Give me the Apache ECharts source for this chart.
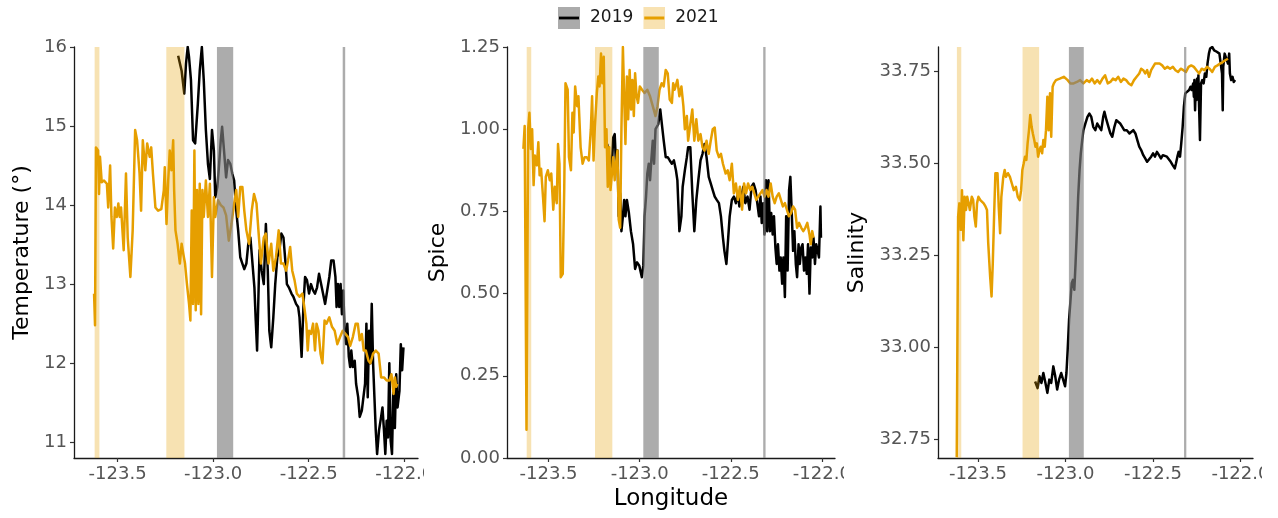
<!DOCTYPE html>
<html>
<head>
<meta charset="utf-8">
<script src="https://cdn.jsdelivr.net/npm/echarts@6/dist/echarts.min.js"></script>
<style>
  html, body { margin: 0; padding: 0; background: #fff; }
  #wrap { position: relative; width: 1278px; height: 518px; overflow: hidden; background: #fff; }
  .panel { position: absolute; top: 0; height: 518px; overflow: hidden; }
</style>
</head>
<body>
<div id="wrap">
  <div id="p1" class="panel" style="left:0;width:424px"></div>
  <div id="p2" class="panel" style="left:424px;width:420px"></div>
  <div id="p3" class="panel" style="left:844px;width:418px"></div>
</div>
<script>
// ---- axis ranges and tick labels ----
const lonMin = -123.728, lonMax = -121.928;
const lonTicks = [-123.5, -123.0, -122.5, -122.0];
const tempTicks = [11, 12, 13, 14, 15, 16];
const spiceTicks = [0, 0.25, 0.5, 0.75, 1.0, 1.25];
const salTicks = [32.75, 33.0, 33.25, 33.5, 33.75];

// ---- highlighted longitude bands (lon from, lon to) ----
const bands2019 = [[-122.980, -122.895], [-122.322, -122.309]];
const bands2021 = [[-123.620, -123.595], [-123.245, -123.150]];

// ---- temperature along the transect [longitude, value] ----
const temp2019 = [[-123.183,15.89],[-123.165,15.70],[-123.151,15.41],[-123.142,15.79],[-123.133,16.0],[-123.126,15.87],[-123.116,15.58],[-123.105,14.82],[-123.094,14.78],[-123.080,15.28],[-123.070,15.70],[-123.059,16.0],[-123.049,15.58],[-123.038,14.95],[-123.027,14.52],[-123.017,14.33],[-123.006,14.95],[-122.996,14.69],[-122.989,14.10],[-122.978,14.23],[-122.971,14.44],[-122.960,14.82],[-122.953,14.99],[-122.943,14.69],[-122.932,14.35],[-122.922,14.57],[-122.910,14.52],[-122.900,14.40],[-122.890,14.31],[-122.879,13.93],[-122.869,13.68],[-122.858,13.34],[-122.847,13.26],[-122.837,13.19],[-122.826,13.26],[-122.816,13.51],[-122.805,13.59],[-122.795,13.59],[-122.784,12.96],[-122.777,12.54],[-122.770,12.16],[-122.763,12.84],[-122.757,13.43],[-122.746,13.17],[-122.735,13.00],[-122.724,13.76],[-122.714,13.17],[-122.706,12.41],[-122.696,12.20],[-122.685,12.58],[-122.675,13.00],[-122.664,13.34],[-122.653,13.43],[-122.643,13.64],[-122.632,13.59],[-122.621,13.26],[-122.614,13.00],[-122.604,12.96],[-122.590,12.88],[-122.580,12.84],[-122.566,12.75],[-122.555,12.71],[-122.548,12.58],[-122.537,12.08],[-122.527,12.75],[-122.519,13.09],[-122.509,13.05],[-122.498,12.88],[-122.488,13.00],[-122.477,12.92],[-122.467,12.88],[-122.456,12.96],[-122.446,13.13],[-122.435,13.00],[-122.425,12.88],[-122.414,12.75],[-122.403,12.92],[-122.392,13.09],[-122.382,13.30],[-122.370,13.30],[-122.360,13.09],[-122.354,12.71],[-122.347,13.00],[-122.340,12.71],[-122.333,13.00],[-122.326,12.62],[-122.319,12.92],[-122.312,12.41],[-122.304,12.24],[-122.298,12.50],[-122.290,12.08],[-122.283,11.95],[-122.277,12.16],[-122.269,11.95],[-122.259,12.03],[-122.252,11.74],[-122.241,11.57],[-122.233,11.32],[-122.222,11.40],[-122.212,11.40],[-122.205,11.74],[-122.198,12.50],[-122.191,11.57],[-122.184,12.41],[-122.177,12.00],[-122.170,12.75],[-122.163,12.00],[-122.156,11.57],[-122.149,11.15],[-122.142,10.85],[-122.132,11.15],[-122.121,11.32],[-122.114,11.44],[-122.106,11.15],[-122.099,10.85],[-122.092,11.27],[-122.085,11.06],[-122.078,12.00],[-122.071,11.02],[-122.064,10.85],[-122.057,11.65],[-122.049,11.18],[-122.042,11.86],[-122.035,11.44],[-122.025,11.65],[-122.018,12.24],[-122.011,11.91],[-122.004,12.20]];
const temp2021 = [[-123.623,12.88],[-123.618,12.48],[-123.613,14.73],[-123.602,14.69],[-123.597,14.14],[-123.592,14.61],[-123.583,14.29],[-123.571,14.31],[-123.556,14.27],[-123.549,13.97],[-123.539,14.50],[-123.532,13.85],[-123.523,13.45],[-123.514,13.97],[-123.504,13.85],[-123.496,14.02],[-123.489,13.85],[-123.482,13.97],[-123.468,13.43],[-123.456,14.40],[-123.447,13.59],[-123.433,13.09],[-123.421,13.68],[-123.408,14.95],[-123.398,14.82],[-123.385,14.40],[-123.377,13.93],[-123.368,14.82],[-123.355,14.44],[-123.345,14.78],[-123.332,14.61],[-123.324,14.73],[-123.315,14.40],[-123.302,13.97],[-123.288,13.93],[-123.271,13.95],[-123.258,14.19],[-123.253,14.48],[-123.244,13.76],[-123.235,14.31],[-123.227,14.69],[-123.218,14.44],[-123.209,14.82],[-123.204,14.19],[-123.197,13.68],[-123.186,13.51],[-123.174,13.26],[-123.165,13.51],[-123.156,13.38],[-123.147,13.26],[-123.137,13.00],[-123.126,12.75],[-123.119,12.54],[-123.112,13.93],[-123.105,12.75],[-123.098,14.69],[-123.091,12.67],[-123.084,14.19],[-123.077,12.75],[-123.070,14.27],[-123.063,12.62],[-123.056,14.19],[-123.049,13.85],[-123.038,14.31],[-123.027,13.85],[-123.017,14.27],[-123.006,13.09],[-122.996,14.10],[-122.989,13.85],[-122.974,14.06],[-122.960,14.00],[-122.946,13.97],[-122.932,13.87],[-122.918,13.55],[-122.904,13.76],[-122.890,14.02],[-122.879,14.19],[-122.869,13.85],[-122.858,14.23],[-122.847,14.23],[-122.837,13.93],[-122.826,13.68],[-122.812,13.51],[-122.798,13.93],[-122.786,14.14],[-122.773,14.02],[-122.763,13.68],[-122.750,13.26],[-122.735,13.59],[-122.724,13.64],[-122.710,13.26],[-122.696,13.51],[-122.685,13.17],[-122.671,13.34],[-122.657,13.68],[-122.645,13.26],[-122.632,13.26],[-122.618,13.17],[-122.608,13.30],[-122.597,13.47],[-122.586,13.17],[-122.574,13.05],[-122.562,12.88],[-122.548,12.84],[-122.533,12.88],[-122.523,12.71],[-122.512,12.50],[-122.505,12.16],[-122.498,12.41],[-122.488,12.37],[-122.477,12.50],[-122.467,12.16],[-122.459,12.50],[-122.449,12.41],[-122.438,12.12],[-122.428,12.00],[-122.417,12.54],[-122.407,12.50],[-122.392,12.58],[-122.378,12.46],[-122.364,12.41],[-122.350,12.24],[-122.336,12.33],[-122.322,12.41],[-122.308,12.37],[-122.294,12.33],[-122.283,12.22],[-122.269,12.33],[-122.254,12.50],[-122.243,12.50],[-122.233,12.29],[-122.222,12.37],[-122.212,12.16],[-122.201,12.16],[-122.187,12.03],[-122.177,12.00],[-122.163,12.12],[-122.149,12.16],[-122.134,12.12],[-122.121,11.82],[-122.106,11.82],[-122.092,11.78],[-122.078,11.78],[-122.067,11.86],[-122.056,11.61],[-122.049,11.82],[-122.042,11.70],[-122.036,11.74]];

// ---- spice along the transect ----
const spice2019 = [[-123.178,0.955],[-123.167,0.915],[-123.160,0.855],[-123.152,0.895],[-123.145,0.975],[-123.137,0.985],[-123.130,0.895],[-123.122,0.935],[-123.115,0.735],[-123.107,0.805],[-123.100,0.69],[-123.092,0.735],[-123.085,0.785],[-123.078,0.735],[-123.070,0.785],[-123.059,0.745],[-123.048,0.69],[-123.036,0.65],[-123.025,0.575],[-123.014,0.595],[-123.002,0.585],[-122.995,0.585],[-122.988,0.55],[-122.980,0.585],[-122.973,0.735],[-122.965,0.795],[-122.958,0.865],[-122.950,0.895],[-122.943,0.845],[-122.936,0.905],[-122.928,0.965],[-122.921,0.895],[-122.913,1.00],[-122.906,1.005],[-122.898,1.015],[-122.887,1.06],[-122.876,1.005],[-122.868,0.965],[-122.857,0.915],[-122.846,0.915],[-122.835,0.905],[-122.823,0.895],[-122.812,0.905],[-122.801,0.875],[-122.793,0.845],[-122.782,0.69],[-122.771,0.735],[-122.764,0.825],[-122.752,0.875],[-122.741,0.915],[-122.734,0.945],[-122.722,0.945],[-122.711,0.805],[-122.700,0.69],[-122.689,0.785],[-122.678,0.845],[-122.666,0.905],[-122.655,0.925],[-122.644,0.955],[-122.633,0.915],[-122.621,0.855],[-122.610,0.835],[-122.599,0.815],[-122.588,0.795],[-122.577,0.785],[-122.565,0.775],[-122.554,0.735],[-122.543,0.67],[-122.535,0.63],[-122.524,0.59],[-122.514,0.67],[-122.506,0.735],[-122.494,0.785],[-122.483,0.795],[-122.472,0.775],[-122.461,0.805],[-122.453,0.765],[-122.442,0.795],[-122.431,0.825],[-122.420,0.775],[-122.408,0.795],[-122.397,0.755],[-122.386,0.825],[-122.375,0.835],[-122.364,0.815],[-122.352,0.765],[-122.345,0.735],[-122.337,0.795],[-122.330,0.715],[-122.322,0.775],[-122.315,0.68],[-122.307,0.845],[-122.300,0.69],[-122.293,0.845],[-122.285,0.69],[-122.278,0.745],[-122.270,0.68],[-122.263,0.735],[-122.255,0.64],[-122.248,0.59],[-122.241,0.65],[-122.233,0.57],[-122.226,0.61],[-122.218,0.53],[-122.211,0.61],[-122.203,0.49],[-122.196,0.735],[-122.188,0.57],[-122.180,0.815],[-122.173,0.855],[-122.166,0.755],[-122.158,0.63],[-122.151,0.69],[-122.143,0.59],[-122.136,0.55],[-122.128,0.65],[-122.121,0.59],[-122.113,0.64],[-122.106,0.65],[-122.098,0.57],[-122.091,0.61],[-122.083,0.56],[-122.076,0.65],[-122.068,0.50],[-122.061,0.64],[-122.053,0.61],[-122.046,0.67],[-122.038,0.59],[-122.031,0.65],[-122.023,0.63],[-122.016,0.61],[-122.008,0.765],[-122.005,0.67]];
const spice2021 = [[-123.638,0.94],[-123.631,1.01],[-123.621,0.086],[-123.612,1.00],[-123.605,1.05],[-123.597,0.94],[-123.590,1.00],[-123.582,0.83],[-123.575,0.92],[-123.564,0.89],[-123.556,0.96],[-123.549,0.86],[-123.541,0.88],[-123.530,0.79],[-123.522,0.72],[-123.515,0.855],[-123.504,0.875],[-123.493,0.845],[-123.485,0.865],[-123.474,0.755],[-123.466,0.825],[-123.455,0.775],[-123.448,0.955],[-123.440,0.895],[-123.433,0.55],[-123.422,0.56],[-123.414,0.815],[-123.407,1.14],[-123.395,1.12],[-123.388,0.915],[-123.377,0.875],[-123.369,1.05],[-123.362,0.99],[-123.354,1.13],[-123.343,1.07],[-123.336,1.10],[-123.324,0.945],[-123.313,0.895],[-123.302,0.915],[-123.291,0.915],[-123.279,0.905],[-123.268,1.00],[-123.261,1.10],[-123.253,0.905],[-123.246,1.005],[-123.235,1.11],[-123.227,1.16],[-123.220,1.13],[-123.212,1.23],[-123.205,1.14],[-123.197,1.22],[-123.190,0.945],[-123.182,1.00],[-123.175,0.825],[-123.167,0.945],[-123.160,0.815],[-123.152,0.865],[-123.145,0.915],[-123.137,0.845],[-123.130,0.895],[-123.122,0.935],[-123.115,0.725],[-123.107,0.70],[-123.100,1.00],[-123.092,1.25],[-123.085,1.10],[-123.078,0.955],[-123.070,1.16],[-123.063,1.03],[-123.055,1.18],[-123.047,1.06],[-123.040,1.15],[-123.032,1.04],[-123.025,1.17],[-123.017,1.10],[-123.009,1.08],[-122.999,1.13],[-122.987,1.12],[-122.973,1.11],[-122.958,1.12],[-122.943,1.10],[-122.928,1.07],[-122.913,1.04],[-122.902,1.07],[-122.891,1.12],[-122.879,1.14],[-122.868,1.13],[-122.857,1.18],[-122.846,1.17],[-122.835,1.09],[-122.823,1.08],[-122.816,1.14],[-122.808,1.12],[-122.793,1.15],[-122.782,1.10],[-122.771,1.13],[-122.760,1.07],[-122.752,1.00],[-122.741,1.04],[-122.734,0.965],[-122.722,1.015],[-122.711,1.06],[-122.700,0.965],[-122.689,1.03],[-122.678,0.965],[-122.666,0.985],[-122.655,0.945],[-122.644,0.935],[-122.633,0.965],[-122.621,0.925],[-122.610,0.965],[-122.599,1.00],[-122.588,1.005],[-122.577,0.935],[-122.565,0.915],[-122.554,0.925],[-122.543,0.895],[-122.528,0.865],[-122.517,0.875],[-122.506,0.845],[-122.494,0.895],[-122.483,0.805],[-122.472,0.835],[-122.461,0.785],[-122.450,0.825],[-122.438,0.755],[-122.427,0.835],[-122.416,0.805],[-122.405,0.835],[-122.393,0.815],[-122.382,0.825],[-122.371,0.805],[-122.360,0.785],[-122.349,0.795],[-122.337,0.805],[-122.326,0.815],[-122.315,0.795],[-122.304,0.815],[-122.293,0.795],[-122.281,0.835],[-122.270,0.795],[-122.259,0.775],[-122.248,0.795],[-122.236,0.805],[-122.225,0.785],[-122.214,0.765],[-122.203,0.775],[-122.192,0.755],[-122.181,0.735],[-122.169,0.745],[-122.158,0.765],[-122.147,0.755],[-122.136,0.70],[-122.125,0.715],[-122.113,0.70],[-122.102,0.69],[-122.091,0.70],[-122.080,0.715],[-122.068,0.68],[-122.061,0.65],[-122.053,0.69],[-122.046,0.67]];

// ---- salinity along the transect ----
const sal2019 = [[-123.173,32.906],[-123.159,32.888],[-123.148,32.920],[-123.137,32.902],[-123.126,32.929],[-123.114,32.902],[-123.103,32.875],[-123.092,32.911],[-123.081,32.902],[-123.069,32.947],[-123.058,32.920],[-123.047,32.884],[-123.036,32.911],[-123.024,32.929],[-123.013,32.929],[-123.002,32.893],[-122.994,32.929],[-122.987,32.992],[-122.979,33.074],[-122.972,33.119],[-122.964,33.173],[-122.957,33.182],[-122.949,33.155],[-122.942,33.227],[-122.934,33.318],[-122.927,33.408],[-122.919,33.481],[-122.912,33.526],[-122.904,33.562],[-122.897,33.589],[-122.886,33.607],[-122.874,33.625],[-122.863,33.634],[-122.852,33.625],[-122.841,33.598],[-122.829,33.589],[-122.818,33.607],[-122.807,33.598],[-122.795,33.589],[-122.784,33.625],[-122.777,33.639],[-122.765,33.616],[-122.754,33.598],[-122.743,33.580],[-122.732,33.571],[-122.720,33.598],[-122.709,33.616],[-122.698,33.621],[-122.687,33.607],[-122.675,33.598],[-122.664,33.589],[-122.649,33.589],[-122.634,33.580],[-122.623,33.584],[-122.612,33.589],[-122.600,33.580],[-122.589,33.562],[-122.578,33.544],[-122.567,33.535],[-122.555,33.521],[-122.544,33.512],[-122.533,33.503],[-122.522,33.508],[-122.510,33.517],[-122.499,33.526],[-122.488,33.517],[-122.477,33.530],[-122.465,33.521],[-122.454,33.512],[-122.443,33.521],[-122.432,33.517],[-122.420,33.517],[-122.409,33.512],[-122.398,33.503],[-122.387,33.494],[-122.375,33.485],[-122.368,33.499],[-122.360,33.517],[-122.353,33.530],[-122.345,33.517],[-122.338,33.553],[-122.330,33.598],[-122.323,33.652],[-122.315,33.689],[-122.304,33.693],[-122.293,33.698],[-122.285,33.707],[-122.278,33.698],[-122.270,33.716],[-122.266,33.680],[-122.263,33.725],[-122.259,33.643],[-122.255,33.716],[-122.251,33.671],[-122.248,33.729],[-122.244,33.680],[-122.240,33.738],[-122.236,33.652],[-122.231,33.562],[-122.225,33.716],[-122.218,33.725],[-122.210,33.716],[-122.203,33.743],[-122.195,33.734],[-122.188,33.770],[-122.180,33.797],[-122.173,33.811],[-122.161,33.815],[-122.150,33.806],[-122.143,33.811],[-122.135,33.802],[-122.128,33.797],[-122.120,33.797],[-122.113,33.802],[-122.105,33.743],[-122.101,33.643],[-122.098,33.761],[-122.090,33.797],[-122.079,33.797],[-122.071,33.770],[-122.064,33.797],[-122.060,33.743],[-122.053,33.725],[-122.045,33.734],[-122.038,33.720],[-122.030,33.725]];
const sal2021 = [[-123.621,32.70],[-123.613,33.354],[-123.606,33.390],[-123.598,33.318],[-123.591,33.426],[-123.583,33.290],[-123.576,33.408],[-123.568,33.372],[-123.561,33.408],[-123.553,33.408],[-123.546,33.372],[-123.535,33.408],[-123.527,33.399],[-123.520,33.354],[-123.512,33.327],[-123.505,33.390],[-123.497,33.408],[-123.486,33.399],[-123.478,33.399],[-123.467,33.390],[-123.456,33.381],[-123.448,33.372],[-123.441,33.282],[-123.430,33.191],[-123.422,33.137],[-123.415,33.227],[-123.407,33.363],[-123.400,33.472],[-123.388,33.472],[-123.381,33.381],[-123.373,33.309],[-123.366,33.408],[-123.355,33.462],[-123.347,33.481],[-123.340,33.462],[-123.328,33.472],[-123.317,33.462],[-123.306,33.444],[-123.295,33.426],[-123.283,33.435],[-123.272,33.408],[-123.261,33.399],[-123.253,33.426],[-123.246,33.481],[-123.238,33.499],[-123.231,33.517],[-123.223,33.508],[-123.216,33.553],[-123.208,33.589],[-123.201,33.630],[-123.193,33.598],[-123.186,33.580],[-123.178,33.562],[-123.171,33.544],[-123.163,33.553],[-123.156,33.517],[-123.148,33.535],[-123.141,33.544],[-123.133,33.526],[-123.126,33.562],[-123.118,33.544],[-123.111,33.589],[-123.103,33.680],[-123.096,33.589],[-123.088,33.689],[-123.081,33.571],[-123.073,33.707],[-123.066,33.716],[-123.054,33.725],[-123.043,33.720],[-123.032,33.729],[-123.021,33.725],[-123.009,33.734],[-122.998,33.738],[-122.987,33.725],[-122.972,33.716],[-122.953,33.716],[-122.934,33.720],[-122.916,33.725],[-122.897,33.716],[-122.878,33.725],[-122.863,33.720],[-122.848,33.729],[-122.833,33.716],[-122.818,33.725],[-122.803,33.716],[-122.788,33.729],[-122.773,33.738],[-122.758,33.716],[-122.743,33.720],[-122.728,33.729],[-122.713,33.725],[-122.698,33.734],[-122.683,33.720],[-122.668,33.729],[-122.653,33.725],[-122.638,33.716],[-122.623,33.711],[-122.608,33.725],[-122.593,33.734],[-122.578,33.743],[-122.567,33.756],[-122.555,33.752],[-122.544,33.743],[-122.533,33.752],[-122.522,33.734],[-122.510,33.752],[-122.499,33.761],[-122.488,33.770],[-122.477,33.774],[-122.462,33.770],[-122.447,33.765],[-122.432,33.756],[-122.417,33.761],[-122.402,33.756],[-122.386,33.761],[-122.371,33.752],[-122.356,33.747],[-122.341,33.756],[-122.326,33.752],[-122.311,33.747],[-122.296,33.761],[-122.281,33.765],[-122.266,33.761],[-122.251,33.752],[-122.236,33.743],[-122.221,33.756],[-122.206,33.752],[-122.191,33.761],[-122.176,33.756],[-122.161,33.747],[-122.146,33.761],[-122.131,33.765],[-122.116,33.770],[-122.101,33.774],[-122.086,33.779],[-122.071,33.783]];

// ---- styling ----
const FONT = "'DejaVu Sans', 'Liberation Sans', sans-serif";
const COLOR_2019 = '#000000';
const COLOR_2021 = '#E69F00';
const BAND_2019 = 'rgba(127,127,127,0.65)';
const BAND_2021 = 'rgba(230,159,0,0.30)';

function legendKey(fill, stroke) {
  const svg = "<svg xmlns='http://www.w3.org/2000/svg' width='22' height='22' viewBox='0 0 22 22'>" +
    "<rect x='0' y='0' width='22' height='22' fill='" + fill + "'/>" +
    "<line x1='1' y1='11' x2='21' y2='11' stroke='" + stroke + "' stroke-width='2.8'/></svg>";
  return 'image://data:image/svg+xml;charset=utf-8,' + encodeURIComponent(svg);
}

function bandArea(bands, color) {
  return {
    silent: true,
    z: 5,
    itemStyle: { color: color, borderWidth: 0 },
    data: bands.map(b => [{ xAxis: b[0] }, { xAxis: b[1] }])
  };
}

function lineSeries(name, data, color, bands, bandColor) {
  return {
    name: name,
    type: 'line',
    data: data,
    showSymbol: false,
    symbol: 'none',
    silent: true,
    z: 2,
    lineStyle: { color: color, width: 2.5, join: 'round', cap: 'butt' },
    itemStyle: { color: color },
    markArea: bandArea(bands, bandColor)
  };
}

function panelOption(cfg) {
  return {
    animation: false,
    backgroundColor: '#fff',
    textStyle: { fontFamily: FONT },
    grid: { left: cfg.left, top: 47, width: cfg.width, height: 411, containLabel: false, outerBoundsMode: 'none' },
    legend: cfg.legend ? {
      left: 134, top: 7, padding: 0, itemWidth: 22, itemHeight: 22, itemGap: 10,
      selectedMode: false,
      textStyle: { fontSize: 17, color: '#1a1a1a', fontFamily: FONT, padding: [0, 0, 0, 5] },
      data: [
        { name: '2019', icon: legendKey('#ababab', COLOR_2019) },
        { name: '2021', icon: legendKey('#f8e2b2', COLOR_2021) }
      ]
    } : { show: false },
    xAxis: {
      type: 'value', min: lonMin, max: lonMax,
      name: cfg.xName || '', nameLocation: 'middle', nameGap: 29,
      nameTextStyle: { fontSize: 23, color: '#000', fontFamily: FONT },
      axisLine: { show: true, onZero: false, lineStyle: { color: '#1a1a1a', width: 1.3 } },
      axisTick: { show: true, length: 4, customValues: lonTicks, lineStyle: { color: '#333', width: 1.2 } },
      axisLabel: { customValues: lonTicks, formatter: v => Number(v).toFixed(1), fontSize: 18, color: '#555', margin: 7, fontFamily: FONT },
      splitLine: { show: false }
    },
    yAxis: {
      type: 'value', min: cfg.yMin, max: cfg.yMax,
      name: cfg.yName, nameLocation: 'middle', nameGap: cfg.nameGap,
      nameTextStyle: { fontSize: 22, color: '#000', fontFamily: FONT },
      axisLine: { show: true, onZero: false, lineStyle: { color: '#1a1a1a', width: 1.3 } },
      axisTick: { show: true, length: 4, customValues: cfg.yTicks, lineStyle: { color: '#333', width: 1.2 } },
      axisLabel: { customValues: cfg.yTicks, formatter: v => Number(v).toFixed(cfg.digits), fontSize: 18, color: '#555', margin: 7, fontFamily: FONT },
      splitLine: { show: false }
    },
    series: [
      lineSeries('2019', cfg.d2019, COLOR_2019, bands2019, BAND_2019),
      lineSeries('2021', cfg.d2021, COLOR_2021, bands2021, BAND_2021)
    ]
  };
}

const panels = [
  { el: 'p1', left: 74, width: 344, yMin: 10.8, yMax: 16, yTicks: tempTicks, digits: 0,
    yName: 'Temperature (°)', nameGap: 37, d2019: temp2019, d2021: temp2021 },
  { el: 'p2', left: 83, width: 328, yMin: 0, yMax: 1.25, yTicks: spiceTicks, digits: 2,
    yName: 'Spice', nameGap: 54, d2019: spice2019, d2021: spice2021, xName: 'Longitude', legend: true },
  { el: 'p3', left: 94, width: 315, yMin: 32.698, yMax: 33.815, yTicks: salTicks, digits: 2,
    yName: 'Salinity', nameGap: 65, d2019: sal2019, d2021: sal2021 }
];

panels.forEach(cfg => {
  const chart = echarts.init(document.getElementById(cfg.el), null, { renderer: 'canvas' });
  chart.setOption(panelOption(cfg));
});
</script>
</body>
</html>
